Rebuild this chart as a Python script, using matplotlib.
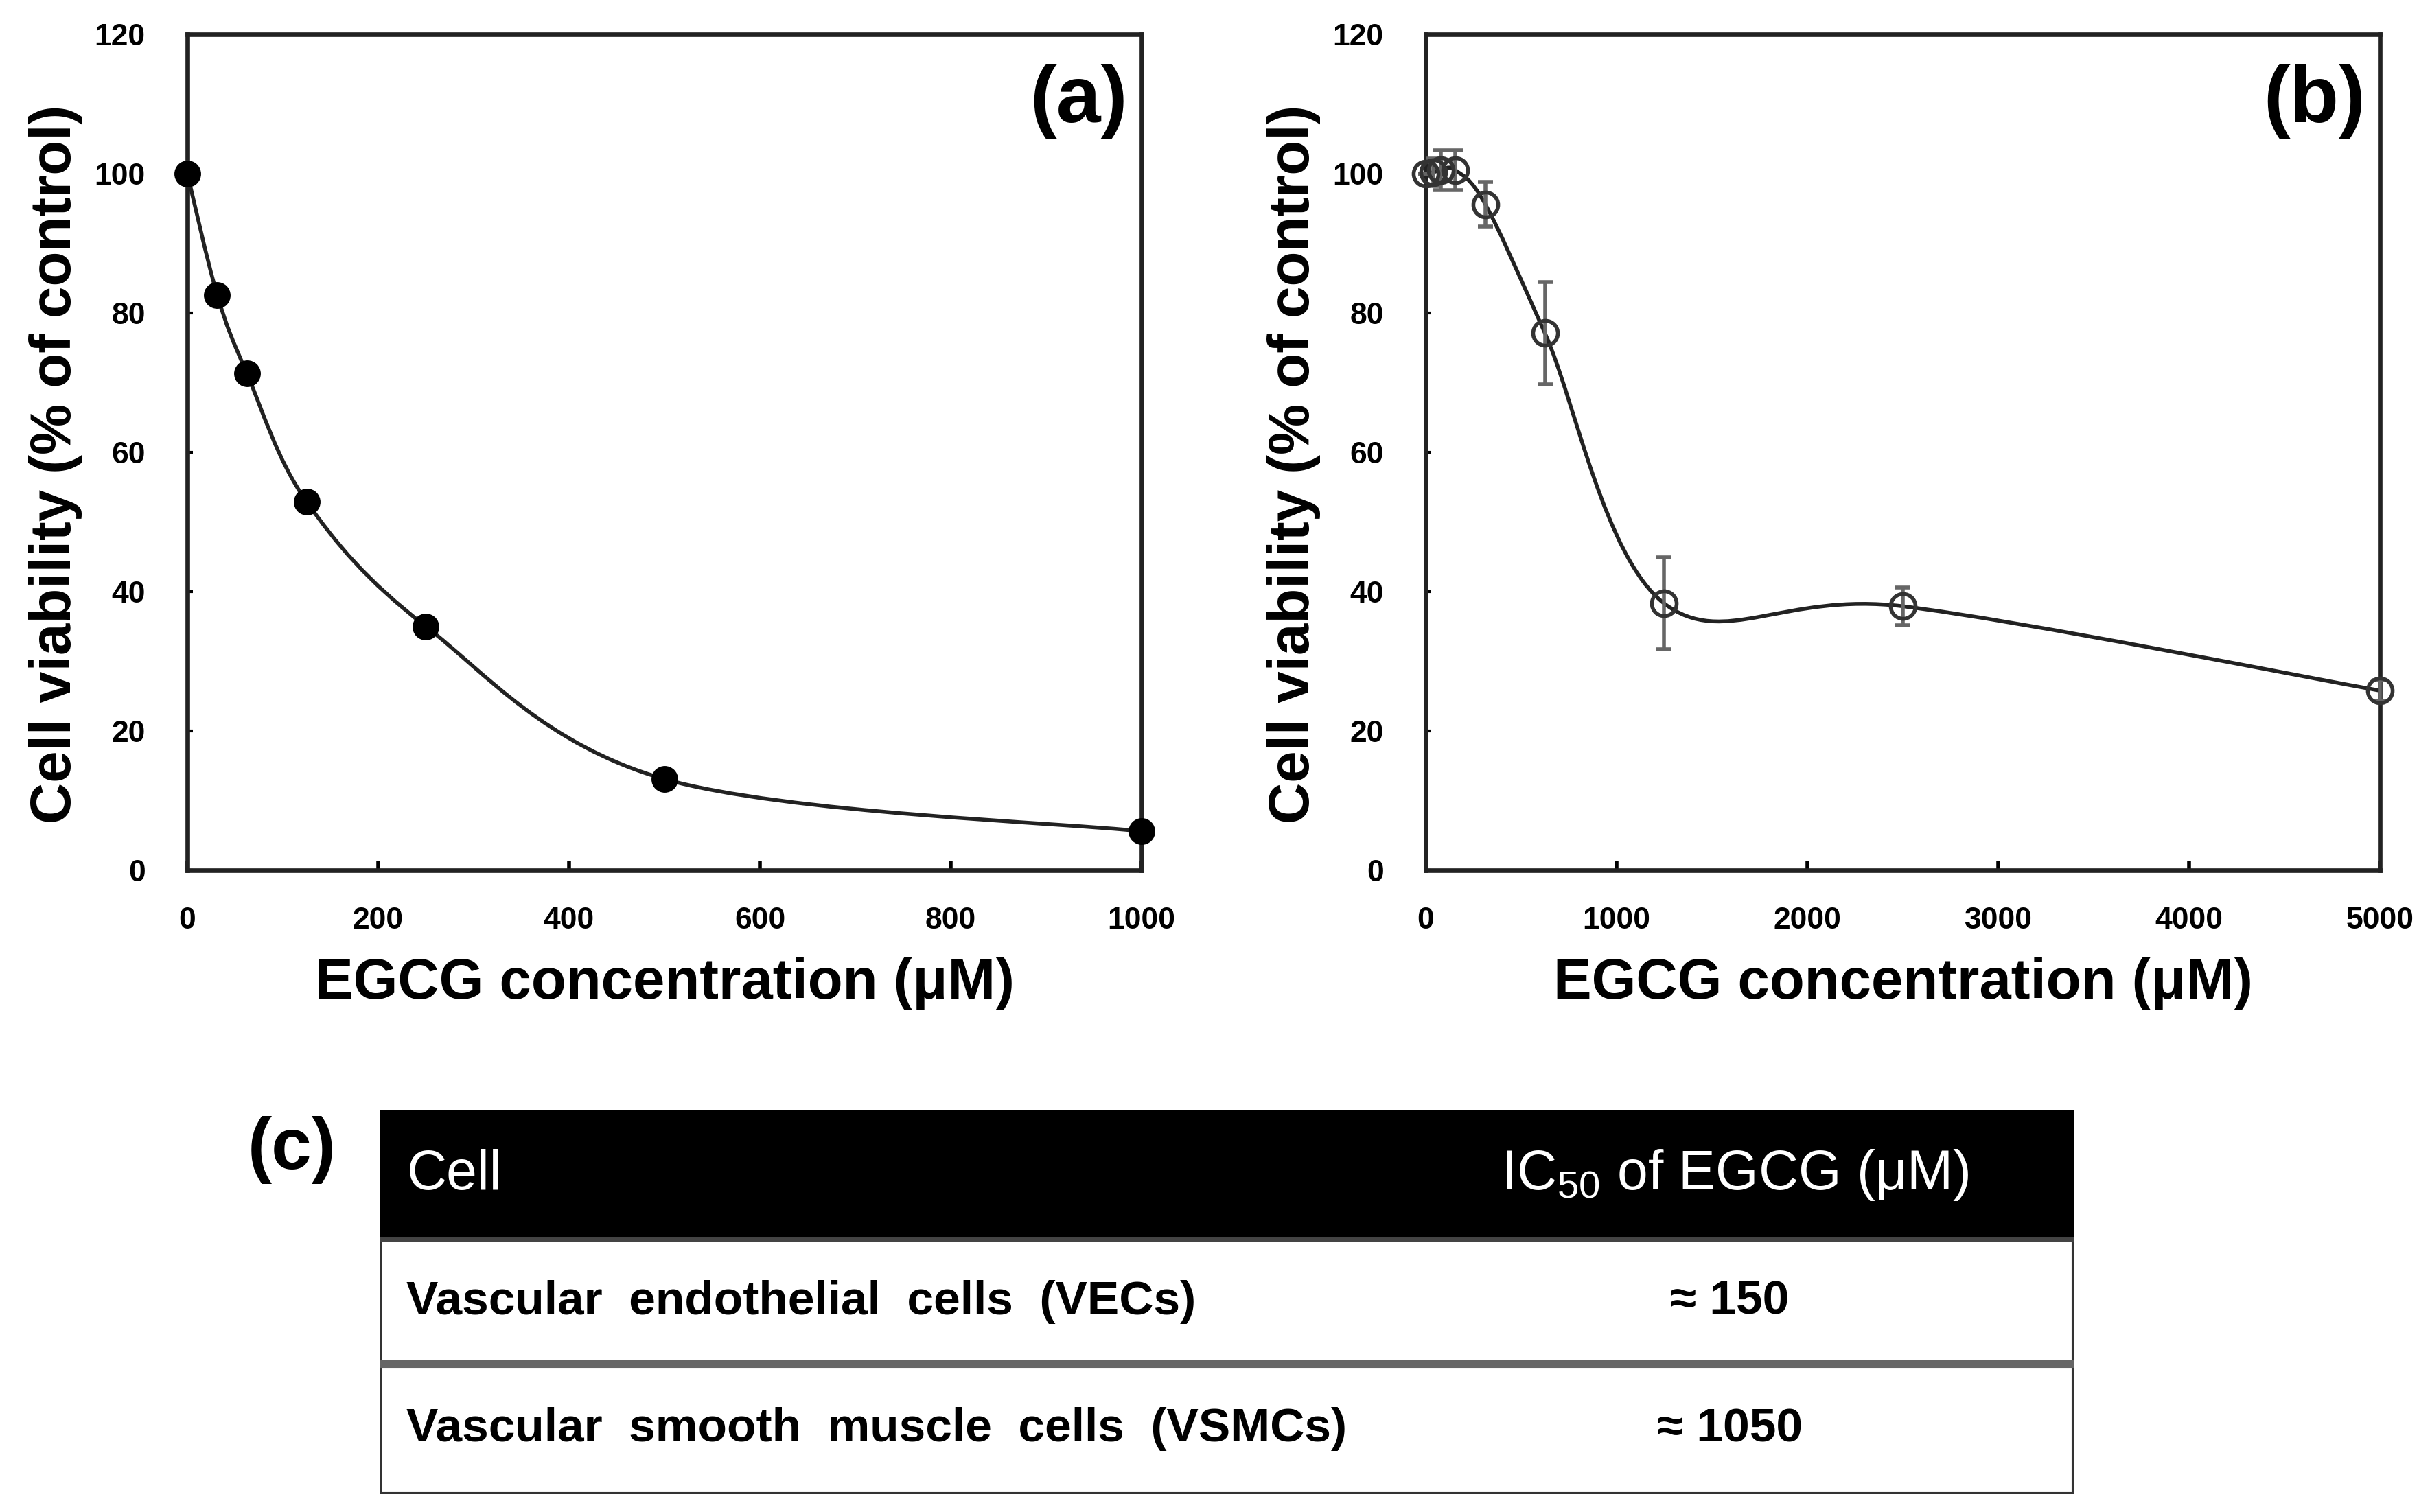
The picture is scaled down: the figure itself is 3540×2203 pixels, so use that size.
import matplotlib
matplotlib.use("Agg")
import matplotlib.pyplot as plt
from matplotlib.path import Path
from matplotlib.patches import PathPatch, Rectangle

plt.rcParams['font.family'] = ['Liberation Sans', 'DejaVu Sans']
plt.rcParams['mathtext.default'] = 'regular'

# --- data ---
conc_a = [0, 31.25, 62.5, 125, 250, 500, 1000]
viab_a = [100, 82.6, 71.3, 52.9, 35.0, 13.1, 5.6]

conc_b = [0, 39, 78, 156, 312.5, 625, 1250, 2500, 5000]
viab_b = [100, 100.2, 100.5, 100.5, 95.6, 77.1, 38.3, 37.9, 25.8]
err_b = [0, 2.0, 2.9, 2.9, 3.2, 7.3, 6.6, 2.7, 1.5]

ytick_vals = [0, 20, 40, 60, 80, 100, 120]
xticks_a = [0, 200, 400, 600, 800, 1000]
xticks_b = [0, 1000, 2000, 3000, 4000, 5000]

table_header = ["Cell", "IC$_{50}$ of EGCG (\u03bcM)"]
table_cells = ["Vascular  endothelial  cells  (VECs)", "Vascular  smooth  muscle  cells  (VSMCs)"]
table_ic50 = ["\u2248 150", "\u2248 1050"]


def smooth_path(xs, ys):
    # Excel-style smoothed line: cubic Bezier through every point
    pts = list(zip(xs, ys))
    n = len(pts)
    verts = [pts[0]]
    codes = [Path.MOVETO]
    for i in range(n - 1):
        p0 = pts[i - 1] if i > 0 else pts[i]
        p1 = pts[i]
        p2 = pts[i + 1]
        p3 = pts[i + 2] if i + 2 < n else pts[i + 1]
        c1 = (p1[0] + (p2[0] - p0[0]) / 6, p1[1] + (p2[1] - p0[1]) / 6)
        c2 = (p2[0] - (p3[0] - p1[0]) / 6, p2[1] - (p3[1] - p1[1]) / 6)
        verts += [c1, c2, p2]
        codes += [Path.CURVE4] * 3
    return Path(verts, codes)


def style_axes(ax, xmax, xticks, label):
    ax.set_xlim(0, xmax)
    ax.set_ylim(0, 120)
    ax.set_xticks(xticks)
    ax.set_yticks(ytick_vals)
    for s in ax.spines.values():
        s.set_linewidth(2.4)
        s.set_color('#222222')
    ax.tick_params(axis='x', direction='in', length=5, width=2, pad=19, labelsize=16)
    ax.tick_params(axis='y', direction='in', length=3, width=1.5, pad=22, labelsize=16)
    for t in ax.get_xticklabels() + ax.get_yticklabels():
        t.set_fontweight('bold')
    ax.set_xlabel("EGCG concentration (\u03bcM)", fontsize=30, fontweight='bold')
    ax.set_ylabel("Cell viability (% of control)", fontsize=30, fontweight='bold')
    ax.xaxis.set_label_coords(0.5, -0.103)
    ax.yaxis.set_label_coords(-0.11, 0.486)
    ax.text(0.985, 0.965, label, transform=ax.transAxes, ha='right', va='top',
            fontsize=42, fontweight='bold')


fig = plt.figure(figsize=(17.7, 11.015), dpi=200)

# panel (a)
ax_a = fig.add_axes([0.0771, 0.4244, 0.3927, 0.5529])
style_axes(ax_a, 1000, xticks_a, "(a)")
ax_a.add_patch(PathPatch(smooth_path(conc_a, viab_a), fill=False, lw=2, ec='#222222', zorder=2))
ax_a.plot(conc_a, viab_a, 'o', ms=13, color='black', zorder=3, clip_on=False)

# panel (b)
ax_b = fig.add_axes([0.5867, 0.4244, 0.3927, 0.5529])
style_axes(ax_b, 5000, xticks_b, "(b)")
ax_b.add_patch(PathPatch(smooth_path(conc_b, viab_b), fill=False, lw=2, ec='#222222', zorder=2))
ax_b.errorbar(conc_b, viab_b, yerr=err_b, fmt='none', ecolor='#666666', elinewidth=2,
              capsize=4, capthick=2, zorder=3, clip_on=False)
ax_b.plot(conc_b, viab_b, 'o', ms=13, mfc='none', mec='#333333', mew=2, zorder=4, clip_on=False)

# panel (c): table
ax_t = fig.add_axes([0.1562, 0.0118, 0.6972, 0.2542])
ax_t.set_xlim(0, 1)
ax_t.set_ylim(0, 560)
ax_t.axis('off')
row_bottoms = [371, 190, 0]
row_heights = [189, 181, 190]
ax_t.add_patch(Rectangle((0, row_bottoms[0]), 1, row_heights[0], fc='black', ec='black', lw=2))
ax_t.text(0.016, row_bottoms[0] + row_heights[0] / 2, table_header[0], color='white',
          fontsize=29, ha='left', va='center')
ax_t.text(0.8, row_bottoms[0] + row_heights[0] / 2, table_header[1], color='white',
          fontsize=29, ha='center', va='center')
for i in range(2):
    yb = row_bottoms[i + 1]
    h = row_heights[i + 1]
    ax_t.add_patch(Rectangle((0, yb), 1, h, fc='white', ec='#333333', lw=2.2))
    ax_t.text(0.016, yb + h / 2, table_cells[i], fontsize=25, fontweight='bold',
              ha='left', va='center')
    ax_t.text(0.797, yb + h / 2, table_ic50[i], fontsize=25, fontweight='bold',
              ha='center', va='center')
ax_t.plot([0, 1], [row_bottoms[1] + row_heights[1], row_bottoms[1] + row_heights[1]],
          color='#444444', lw=2.5)
ax_t.plot([0, 1], [row_bottoms[1], row_bottoms[1]], color='#666666', lw=4)

fig.text(0.102, 0.262, "(c)", fontsize=38, fontweight='bold', ha='left', va='top')

fig.savefig("out.png", dpi=200)
